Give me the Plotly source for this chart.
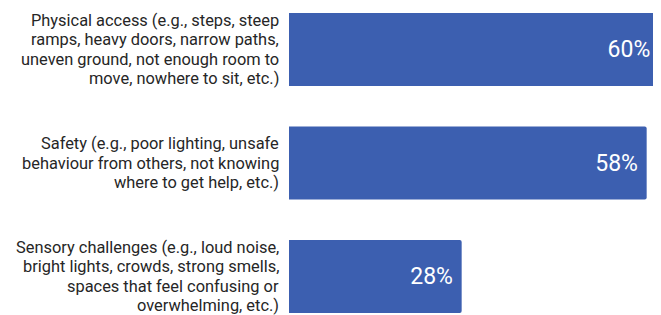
import plotly.graph_objects as go

categories = [
    "Physical access (e.g., steps, steep<br>ramps, heavy doors, narrow paths,<br>uneven ground, not enough room to<br>move, nowhere to sit, etc.)",
    "Safety (e.g., poor lighting, unsafe<br>behaviour from others, not knowing<br>where to get help, etc.)",
    "Sensory challenges (e.g., loud noise,<br>bright lights, crowds, strong smells,<br>spaces that feel confusing or<br>overwhelming, etc.)",
]
values = [60, 58, 28]
labels = [f"{v}%\u00a0" for v in values]
positions = [0, 1, 2]

LINE_GAP = 19.3

fig = go.Figure(
    go.Bar(
        x=values,
        y=positions,
        orientation="h",
        width=0.643,
        marker=dict(color="#3c5fb0", cornerradius=2, line=dict(width=0)),
        text=labels,
        textposition="inside",
        insidetextanchor="end",
        textfont=dict(family="Roboto", size=23, color="white"),
        hoverinfo="skip",
    )
)

# category labels: one annotation per line so the line spacing matches the reference
annotations = []
for pos, cat in zip(positions, categories):
    lines = cat.split("<br>")
    n = len(lines)
    for j, line in enumerate(lines):
        annotations.append(
            dict(
                x=0,
                xref="paper",
                y=pos,
                yref="y",
                text=line,
                showarrow=False,
                xanchor="right",
                yanchor="middle",
                xshift=-8,
                yshift=-(j - (n - 1) / 2) * LINE_GAP,
                font=dict(family="Roboto", size=16.4, color="#262626"),
            )
        )

# page body has an 8px margin, so the figure is sized to fit the 661x315 window
fig.update_layout(
    width=653,
    height=307,
    margin=dict(l=281, r=2, t=0, b=0),
    paper_bgcolor="white",
    plot_bgcolor="white",
    showlegend=False,
    font=dict(family="Roboto", size=16, color="#262626"),
    xaxis=dict(range=[0, 60], visible=False, fixedrange=True),
    yaxis=dict(
        range=[2.339, -0.3656],
        visible=False,
        fixedrange=True,
    ),
    annotations=annotations,
)

fig.write_html("out.html")
